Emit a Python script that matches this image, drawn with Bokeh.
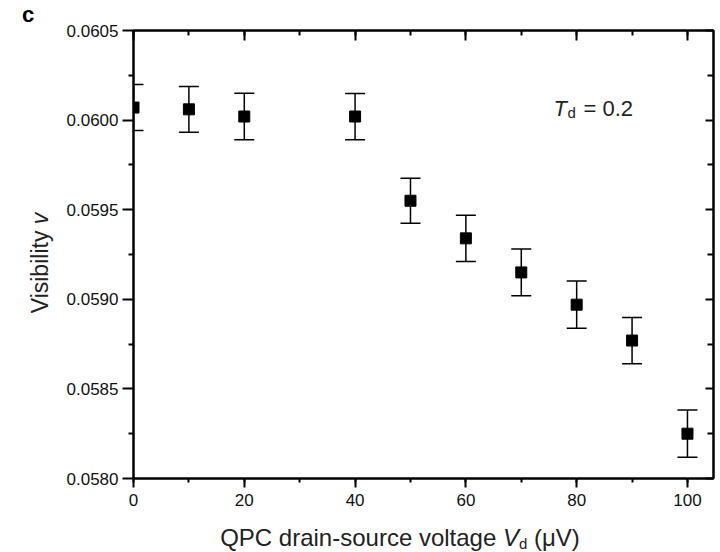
from bokeh.plotting import figure
from bokeh.models import (ColumnDataSource, Whisker, TeeHead, LinearAxis, Label,
                          FixedTicker, PrintfTickFormatter, Range1d, CustomJSTickFormatter, Div)
from bokeh.layouts import row, column
from bokeh.embed import file_html
from bokeh.resources import INLINE

# ---- data ----
voltage = [0, 10, 20, 40, 50, 60, 70, 80, 90, 100]
visibility = [0.06007, 0.06006, 0.06002, 0.06002, 0.05955, 0.05934, 0.05915, 0.05897, 0.05877, 0.05825]
error = [0.000128, 0.000128, 0.00013, 0.000129, 0.000126, 0.000129, 0.00013, 0.000132, 0.000129, 0.000132]
x_ticks = [0, 20, 40, 60, 80, 100]
x_minor = [0, 10, 20, 30, 40, 50, 60, 70, 80, 90, 100]
y_ticks = [0.0580, 0.0585, 0.0590, 0.0595, 0.0600, 0.0605]
y_minor = [0.05825, 0.05875, 0.05925, 0.05975, 0.06025]

FONT = "Liberation Sans"
LEFT_W = 60

src = ColumnDataSource(dict(
    x=voltage, y=visibility,
    upper=[v + e for v, e in zip(visibility, error)],
    lower=[v - e for v, e in zip(visibility, error)],
))

p = figure(width=720 - LEFT_W, height=520, output_backend="svg", toolbar_location=None,
           x_range=Range1d(0, 104.7), y_range=Range1d(0.0580, 0.0605),
           min_border_left=133 - LEFT_W, min_border_right=7, min_border_top=30, min_border_bottom=42,
           x_axis_location=None, y_axis_location=None, margin=0)
p.grid.visible = False
p.outline_line_color = "black"
p.outline_line_width = 2
p.background_fill_color = "white"
p.border_fill_color = "white"

blank = CustomJSTickFormatter(code="return ''")

def style_axis(ax, tin, tout, min_in, min_out):
    ax.major_tick_in = tin
    ax.major_tick_out = tout
    ax.minor_tick_in = min_in
    ax.minor_tick_out = min_out
    ax.axis_line_width = 2
    ax.major_tick_line_width = 2
    ax.minor_tick_line_width = 2
    ax.major_label_text_font = FONT
    ax.major_label_text_font_size = "17px"
    ax.major_label_text_color = "#111111"

# bottom axis
xb = LinearAxis(ticker=FixedTicker(ticks=x_ticks, minor_ticks=x_minor))
style_axis(xb, 0, 9, 0, 4)
xb.major_label_standoff = 6
p.add_layout(xb, "below")

# left axis
yl = LinearAxis(ticker=FixedTicker(ticks=y_ticks, minor_ticks=y_minor),
                formatter=PrintfTickFormatter(format="%.4f"))
style_axis(yl, 0, 11, 0, 5)
yl.major_label_standoff = 4
p.add_layout(yl, "left")

# top axis (inward ticks, no labels)
xt = LinearAxis(ticker=FixedTicker(ticks=x_ticks, minor_ticks=x_minor), formatter=blank)
style_axis(xt, 10, 0, 5, 0)
xt.major_label_standoff = 0
p.add_layout(xt, "above")

# right axis (inward ticks, no labels)
yr = LinearAxis(ticker=FixedTicker(ticks=y_ticks, minor_ticks=y_minor), formatter=blank)
style_axis(yr, 8, 0, 6, 0)
yr.major_label_standoff = 0
p.add_layout(yr, "right")

# error bars
w = Whisker(source=src, base="x", upper="upper", lower="lower", dimension="height",
            line_color="black", line_width=1.5,
            upper_head=TeeHead(size=20, line_color="black", line_width=1.5),
            lower_head=TeeHead(size=20, line_color="black", line_width=1.5))
p.add_layout(w)

p.scatter("x", "y", source=src, marker="square", size=11,
          fill_color="black", line_color="black")

# annotation inside the frame
def lab(text, x, y, size, style="normal"):
    p.add_layout(Label(x=x, y=y, x_units="screen", y_units="screen", text=text,
                       text_font=FONT, text_font_size=size, text_font_style=style,
                       text_align="left", text_baseline="alphabetic",
                       text_color="#222222"))

lab("T", 553 - 133, 478 - 108, "22px", style="italic")
lab("d", 567 - 133, 478 - 112, "15px")
lab("= 0.2", 583 - 133, 478 - 108, "22px")

# ---- texts outside the frame (HTML) ----
base_style = f"position:absolute; white-space:nowrap; font-family:'{FONT}'; color:#222222; line-height:1;"

left_html = (
    f'<span style="{base_style} left:22px; top:4px; font-size:22px; font-weight:bold; color:#000;">c</span>'
    f'<span style="{base_style} left:40px; top:263px; font-size:23px; '
    f'transform:translate(-50%,-50%) rotate(-90deg);">Visibility <i>v</i></span>'
)
left_div = Div(text=left_html, width=LEFT_W, height=552, margin=0,
               styles={"position": "relative", "overflow": "visible"})

bottom_html = (
    f'<span style="{base_style} left:{400 - LEFT_W}px; top:6px; font-size:24px; '
    f'transform:translateX(-50%);">QPC drain-source voltage <i>V</i>'
    f'<sub style="font-size:15px; vertical-align:-3px;">d</sub> (\u03bcV)</span>'
)
bottom_div = Div(text=bottom_html, width=720 - LEFT_W, height=32, margin=0,
                 styles={"position": "relative", "overflow": "visible"})

layout = row(left_div, column(p, bottom_div, spacing=0, margin=0), spacing=0, margin=0)

open("out.html", "w").write(file_html(layout, INLINE))
